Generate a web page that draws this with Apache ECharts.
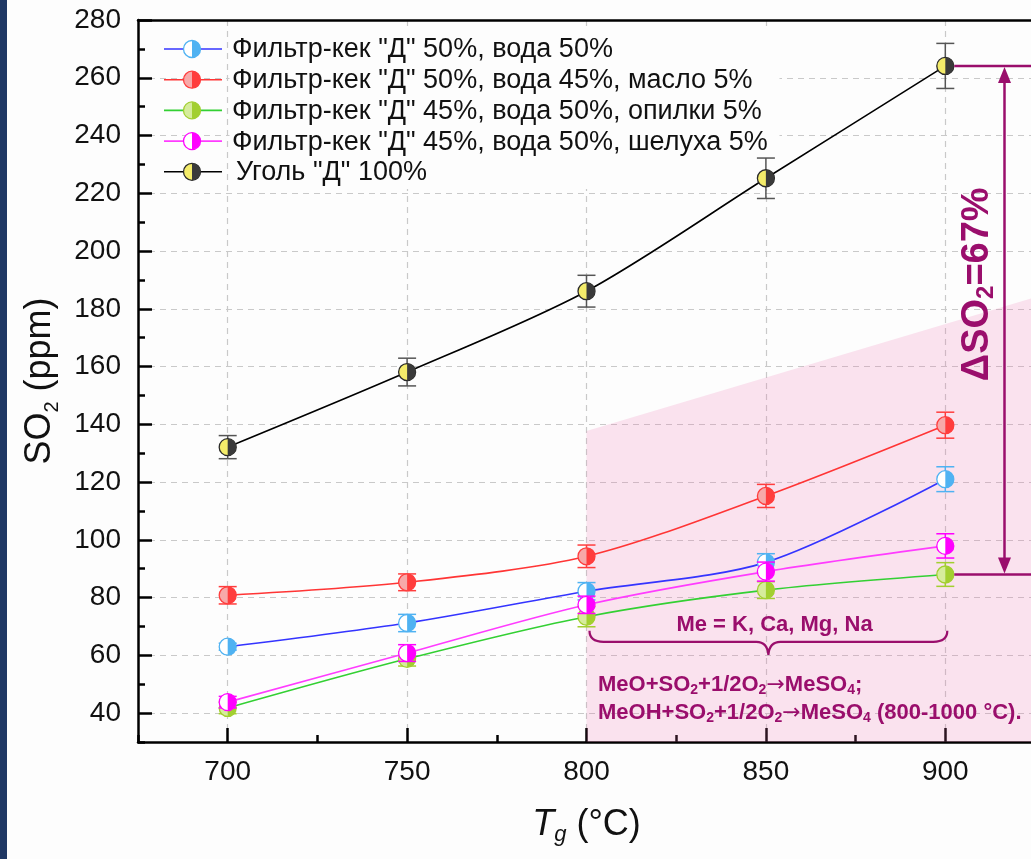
<!DOCTYPE html>
<html>
<head>
<meta charset="utf-8">
<script src="https://cdn.jsdelivr.net/npm/echarts@6/dist/echarts.min.js"></script>
<style>
html,body{margin:0;padding:0;background:#fdfdfd;}
#c{width:1031px;height:859px;}
</style>
</head>
<body>
<div id="c"></div>
<script>
// ---------- DATA ----------
const temperatures = [700, 750, 800, 850, 900];
const seriesNames = [
  'Фильтр-кек "Д" 50%, вода 50%',
  'Фильтр-кек "Д" 50%, вода 45%, масло 5%',
  'Фильтр-кек "Д" 45%, вода 50%, опилки 5%',
  'Фильтр-кек "Д" 45%, вода 50%, шелуха 5%',
  'Уголь "Д" 100%'
];
const blueValues    = [63.0, 71.2, 82.2, 92.2, 121.0];
const blueErrors    = [1.2, 3.0, 3.0, 3.0, 4.3];
const redValues     = [80.8, 85.3, 94.3, 115.2, 139.7];
const redErrors     = [3.0, 2.9, 3.9, 4.0, 4.5];
const greenValues   = [41.8, 58.8, 73.4, 82.6, 88.0];
const greenErrors   = [2.0, 2.5, 3.5, 2.9, 4.1];
const magentaValues = [43.8, 60.8, 77.5, 89.0, 97.9];
const magentaErrors = [2.0, 2.9, 3.0, 3.3, 4.2];
const coalValues    = [132.1, 158.1, 186.1, 225.2, 264.1];
const coalErrors    = [4.0, 4.8, 5.5, 7.0, 7.8];

const xRange = [675, 925];          // x axis extent
const xMajorTicks = [700, 750, 800, 850, 900];
const yRange = [30, 280];           // y axis extent
const yMajorTicks = [40, 60, 80, 100, 120, 140, 160, 180, 200, 220, 240, 260, 280];

// annotation values (data coordinates)
const shadeRegion = [[800, 30], [800, 137.7], [925, 184], [925, 30]];
const deltaArrowX = 916.5;
const deltaLabelPos = [909, 188.5];
const braceRange = [800, 900];
const braceLevel = 68.5;
const metalsLabel = 'Me = K, Ca, Mg, Na';
const metalsLabelPos = [852.4, 70.6];
const reactionPos = [803.2, 49.7, 40.0];

// ---------- STYLE ----------
const FONT = '"Liberation Sans", Arial, sans-serif';
const PURPLE = '#9a0e6c';
const styles = [
  {line: '#3434ff', dark: '#4fb2f2', light: '#ffffff', border: '#4fb2f2', err: '#4fb2f2'},
  {line: '#ff3535', dark: '#ff3d3d', light: '#f7a9a9', border: '#ff3d3d', err: '#ff3d3d'},
  {line: '#33d033', dark: '#a2cf30', light: '#d6ec9c', border: '#a2cf30', err: '#a2cf30'},
  {line: '#ff3cff', dark: '#ff00ff', light: '#ffffff', border: '#ff00ff', err: '#ff00ff'},
  {line: '#000000', dark: '#3a3a3a', light: '#f4ec6a', border: '#2a2a2a', err: '#555555'}
];
const allValues = [blueValues, redValues, greenValues, magentaValues, coalValues];
const allErrors = [blueErrors, redErrors, greenErrors, magentaErrors, coalErrors];

// ---------- LAYOUT ----------
const W = 1031, H = 859;
const L = 138, R = -4, T = 20, B = 117;
const plotW = W - L - R, plotH = H - T - B;
const px = v => L + (v - xRange[0]) / (xRange[1] - xRange[0]) * plotW;
const py = v => T + (yRange[1] - v) / (yRange[1] - yRange[0]) * plotH;

const chart = echarts.init(document.getElementById('c'), null, {renderer: 'canvas'});

const lineSeries = allValues.map((vals, i) => ({
  type: 'line', name: seriesNames[i], xAxisIndex: 0, yAxisIndex: 0,
  data: temperatures.map((t, k) => [t, vals[k]]),
  smooth: 0.3, symbol: 'none', showSymbol: false, z: 3,
  lineStyle: {color: styles[i].line, width: 1.6}
}));

const markerSeries = allValues.map((vals, i) => ({
  type: 'custom', name: seriesNames[i] + ' pts', xAxisIndex: 0, yAxisIndex: 0, z: 4,
  data: temperatures.map((t, k) => [t, vals[k], allErrors[i][k]]),
  encode: {x: 0, y: 1},
  renderItem: (params, api) => {
    const x = api.value(0), y = api.value(1), e = api.value(2);
    const c = api.coord([x, y]);
    const t = api.coord([x, y + e])[1], b = api.coord([x, y - e])[1];
    const cap = 9, r = 8.5, st = styles[i];
    return {type: 'group', children: [
      {type: 'line', shape: {x1: c[0], y1: t, x2: c[0], y2: b}, style: {stroke: st.err, lineWidth: 1.5}},
      {type: 'line', shape: {x1: c[0] - cap, y1: t, x2: c[0] + cap, y2: t}, style: {stroke: st.err, lineWidth: 1.5}},
      {type: 'line', shape: {x1: c[0] - cap, y1: b, x2: c[0] + cap, y2: b}, style: {stroke: st.err, lineWidth: 1.5}},
      {type: 'circle', shape: {cx: c[0], cy: c[1], r: r}, style: {fill: st.light, stroke: st.border, lineWidth: 1.3}},
      {type: 'sector', shape: {cx: c[0], cy: c[1], r0: 0, r: r, startAngle: -Math.PI / 2, endAngle: Math.PI / 2, clockwise: true}, style: {fill: st.dark}}
    ]};
  }
}));

const shadeSeries = {
  type: 'custom', name: 'shade', xAxisIndex: 0, yAxisIndex: 0, z: 1,
  data: [[shadeRegion[0][0], shadeRegion[0][1]]], encode: {x: 0, y: 1},
  renderItem: (params, api) => ({
    type: 'polygon',
    shape: {points: shadeRegion.map(p => api.coord(p))},
    style: {fill: 'rgba(238,112,176,0.19)'}
  })
};

const annotationSeries = {
  type: 'custom', name: 'annotations', xAxisIndex: 0, yAxisIndex: 0, z: 5,
  data: [[900, 100]], encode: {x: 0, y: 1},
  renderItem: (params, api) => {
    const topY = api.coord([900, coalValues[4]])[1];
    const botY = api.coord([900, greenValues[4]])[1];
    const x900 = api.coord([900, 0])[0];
    const xEdge = api.coord([xRange[1], 0])[0] + 5;
    const ax = api.coord([deltaArrowX, 0])[0];
    const ah = 17, aw = 6.5;
    const children = [
      {type: 'line', shape: {x1: x900 + 9, y1: topY, x2: xEdge, y2: topY}, style: {stroke: PURPLE, lineWidth: 2.5}},
      {type: 'line', shape: {x1: x900 + 9, y1: botY, x2: xEdge, y2: botY}, style: {stroke: PURPLE, lineWidth: 2.5}},
      {type: 'line', shape: {x1: ax, y1: topY + ah - 2, x2: ax, y2: botY - ah + 2}, style: {stroke: PURPLE, lineWidth: 2.5}},
      {type: 'polygon', shape: {points: [[ax, topY + 1], [ax - aw, topY + ah], [ax + aw, topY + ah]]}, style: {fill: PURPLE}},
      {type: 'polygon', shape: {points: [[ax, botY - 1], [ax - aw, botY - ah], [ax + aw, botY - ah]]}, style: {fill: PURPLE}}
    ];
    const dp = api.coord(deltaLabelPos);
    children.push({
      type: 'text', x: dp[0], y: dp[1], rotation: Math.PI / 2,
      style: {
        text: '{m|ΔSO}{s|2}{m|=67%}',
        align: 'center', verticalAlign: 'middle',
        rich: {
          m: {font: 'bold 38px ' + FONT, fill: PURPLE, lineHeight: 42},
          s: {font: 'bold 24px ' + FONT, fill: PURPLE, lineHeight: 15, verticalAlign: 'bottom'}
        }
      }
    });
    const xl = api.coord([braceRange[0], 0])[0] + 3, xr = api.coord([braceRange[1], 0])[0] + 2;
    const xm = (xl + xr) / 2;
    const yb = api.coord([0, braceLevel])[1];
    const d = 11, tip = 24;
    const path = `M${xl},${yb} Q${xl},${yb + d} ${xl + 14},${yb + d} L${xm - 12},${yb + d} Q${xm - 1},${yb + d} ${xm},${yb + tip} Q${xm + 1},${yb + d} ${xm + 12},${yb + d} L${xr - 14},${yb + d} Q${xr},${yb + d} ${xr},${yb}`;
    children.push({type: 'path', shape: {pathData: path}, style: {stroke: PURPLE, lineWidth: 2.2, fill: null}});
    const mp = api.coord(metalsLabelPos);
    children.push({type: 'text', x: mp[0], y: mp[1], style: {text: metalsLabel, font: 'bold 22px ' + FONT, fill: PURPLE, align: 'center', verticalAlign: 'middle'}});
    const r1 = api.coord([reactionPos[0], reactionPos[1]]);
    const r2 = api.coord([reactionPos[0], reactionPos[2]]);
    const rich = {
      b: {font: 'bold 22px ' + FONT, fill: PURPLE, lineHeight: 25},
      a: {font: '22px "DejaVu Sans", sans-serif', fill: PURPLE, lineHeight: 25},
      s: {font: 'bold 14px ' + FONT, fill: PURPLE, lineHeight: 9, verticalAlign: 'bottom'}
    };
    children.push({type: 'text', x: r1[0], y: r1[1], style: {text: '{b|MeO+SO}{s|2}{b|+1/2O}{s|2}{a|→}{b|MeSO}{s|4}{b|;}', rich: rich, align: 'left', verticalAlign: 'middle'}});
    children.push({type: 'text', x: r2[0], y: r2[1], style: {text: '{b|MeOH+SO}{s|2}{b|+1/2O}{s|2}{a|→}{b|MeSO}{s|4}{b| (800-1000 °C).}', rich: rich, align: 'left', verticalAlign: 'middle'}});
    return {type: 'group', children: children};
  }
};

// legend built with graphic elements
const legendGraphics = [];
seriesNames.forEach((name, i) => {
  const y = 49 + i * 30.7, st = styles[i];
  legendGraphics.push({type: 'line', shape: {x1: 164, y1: y, x2: 222, y2: y}, style: {stroke: st.line, lineWidth: 1.6}, z: 10});
  legendGraphics.push({type: 'circle', shape: {cx: 192, cy: y, r: 8.5}, style: {fill: st.light, stroke: st.border, lineWidth: 1.3}, z: 11});
  legendGraphics.push({type: 'sector', shape: {cx: 192, cy: y, r0: 0, r: 8.5, startAngle: -Math.PI / 2, endAngle: Math.PI / 2, clockwise: true}, style: {fill: st.dark}, z: 12});
  legendGraphics.push({type: 'text', x: i === 4 ? 236 : 232, y: y + 1, style: {text: name, font: '27px ' + FONT, fill: '#111', verticalAlign: 'middle'}, z: 12});
});

const gridCommon = {outerBoundsMode: 'none', containLabel: false};
const option = {
  animation: false,
  backgroundColor: '#fdfdfd',
  grid: [
    Object.assign({left: L, right: R, top: T, bottom: B}, gridCommon),
    Object.assign({left: L, right: R, top: T, bottom: H - py(yMajorTicks[0])}, gridCommon),
    Object.assign({left: px(xMajorTicks[0]), right: W - px(xMajorTicks[xMajorTicks.length - 1]), top: T, bottom: B}, gridCommon)
  ],
  xAxis: [
    {gridIndex: 0, type: 'value', min: xRange[0], max: xRange[1], interval: 25,
      axisLine: {show: true, onZero: false, lineStyle: {color: '#000', width: 2.5}},
      axisTick: {show: true, inside: true, length: 7, lineStyle: {color: '#000', width: 2.5}},
      axisLabel: {show: false}, splitLine: {show: false},
      name: '{it|T}{sub|g}{n| (°C)}', nameLocation: 'middle', nameGap: 62,
      nameTextStyle: {rich: {
        it: {fontFamily: FONT, fontSize: 36, fontStyle: 'italic', color: '#111', lineHeight: 42},
        sub: {fontFamily: FONT, fontSize: 22, fontStyle: 'italic', color: '#111', lineHeight: 12, verticalAlign: 'bottom'},
        n: {fontFamily: FONT, fontSize: 36, color: '#111', lineHeight: 42}
      }}
    },
    {gridIndex: 1, type: 'value', min: xRange[0], max: xRange[1], show: false},
    {gridIndex: 2, type: 'value', min: xMajorTicks[0], max: xMajorTicks[xMajorTicks.length - 1], interval: 50,
      axisLine: {show: false},
      axisTick: {show: true, inside: true, length: 14, lineStyle: {color: '#000', width: 2.5}},
      axisLabel: {show: true, fontFamily: FONT, fontSize: 28, color: '#111', margin: 16},
      splitLine: {show: true, lineStyle: {color: '#c9c9c9', width: 1.2, type: [6, 5]}}
    },
    {gridIndex: 0, type: 'value', position: 'top', min: xRange[0], max: xRange[1],
      axisLine: {show: true, onZero: false, lineStyle: {color: '#000', width: 2.5}},
      axisTick: {show: false}, axisLabel: {show: false}, splitLine: {show: false}
    }
  ],
  yAxis: [
    {gridIndex: 0, type: 'value', min: yRange[0], max: yRange[1], interval: 10,
      axisLine: {show: true, onZero: false, lineStyle: {color: '#000', width: 2.5}},
      axisTick: {show: true, inside: true, length: 7, lineStyle: {color: '#000', width: 2.5}},
      axisLabel: {show: false}, splitLine: {show: false},
      name: '{n|SO}{s|2}{n| (ppm)}', nameLocation: 'middle', nameGap: 76,
      nameTextStyle: {rich: {
        n: {fontFamily: FONT, fontSize: 36, color: '#111', lineHeight: 44},
        s: {fontFamily: FONT, fontSize: 20, color: '#111', lineHeight: 10, verticalAlign: 'bottom'}
      }}
    },
    {gridIndex: 1, type: 'value', min: yMajorTicks[0], max: yMajorTicks[yMajorTicks.length - 1], interval: 20,
      axisLine: {show: false},
      axisTick: {show: true, inside: true, length: 14, lineStyle: {color: '#000', width: 2.5}},
      axisLabel: {show: true, fontFamily: FONT, fontSize: 28, color: '#111', margin: 17},
      splitLine: {show: true, lineStyle: {color: '#c9c9c9', width: 1.2, type: [6, 5]}}
    },
    {gridIndex: 2, type: 'value', min: yRange[0], max: yRange[1], show: false}
  ],
  graphic: [
    {type: 'rect', shape: {x: 0, y: 0, width: 7, height: H}, style: {fill: '#1f3864'}, z: 100},
    {type: 'rect', shape: {x: 229.5, y: 31, width: 550, height: 158}, style: {fill: '#fdfdfd'}, z: 1}
  ].concat(legendGraphics),
  series: [shadeSeries].concat(lineSeries, markerSeries, [annotationSeries])
};
chart.setOption(option);
</script>
</body>
</html>
